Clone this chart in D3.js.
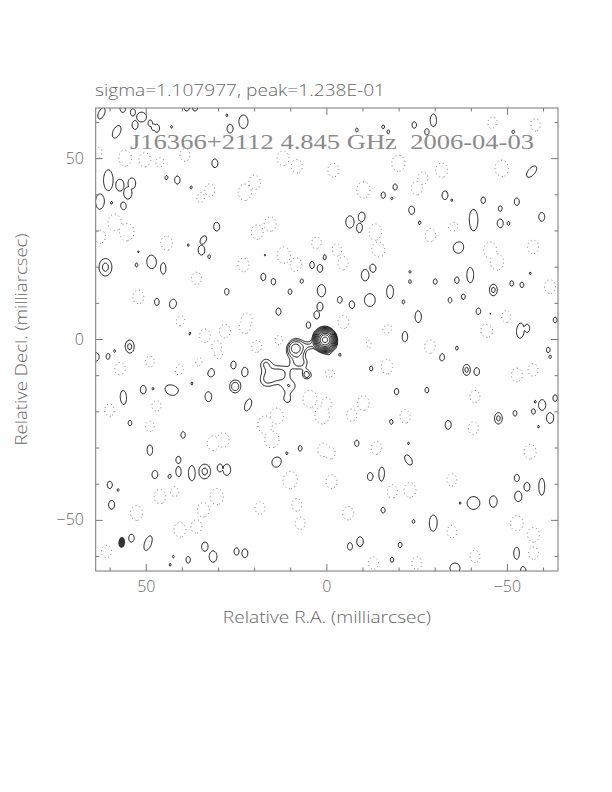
<!DOCTYPE html>
<html>
<head>
<meta charset="utf-8">
<script src="https://cdn.jsdelivr.net/npm/d3@7"></script>
<style>
  body { margin: 0; background: #fff; }
  svg { display: block; }
</style>
</head>
<body>
<svg id="chart" width="612" height="792"></svg>
<script>
// Texts
const statsText = "sigma=1.107977, peak=1.238E-01"
const titleText = "J16366+2112 4.845 GHz  2006-04-03"
const xLabelText = "Relative R.A. (milliarcsec)"
const yLabelText = "Relative Decl. (milliarcsec)"

// Axis ticks (mas)
const majorTicks = [50, 0, -50]
const minorTicks = [60, 40, 30, 20, 10, -10, -20, -30, -40, -60]

// contour levels in units of the lowest contour (x sqrt 2 steps)
const posLevels = [1, 1.41, 2, 2.83, 4, 5.66, 8, 11.3, 16, 22.6, 32]
const negLevels = [1]

// restoring beam (mas, deg)
const beam = { ra: 56.8, dec: -56.1, major: 3.0, minor: 1.85, pa: -5 }

// source components: [ra, dec, peak, sx, sy, pa]
const source = [
  [0.5, -0.1, 37.5, 1.3, 1.4, 0],
  [8.7, -2.4, 3.6, 1.8, 1.7, 0],
  [4.6, -1.6, 1.1, 1.2, 1.0, 0],
  [7.4, -6.5, 1.5, 2.0, 1.5, 0],
  [12.9, -9.3, 1.5, 2.5, 2.0, 0],
  [16.7, -11.2, 1.3, 2.0, 2.0, 0],
  [17.1, -6.5, 1.3, 1.5, 1.5, 0],
  [10.2, -13.0, 1.2, 2.0, 1.5, 0],
  [11.1, -16.7, 1.2, 1.5, 1.5, 0],
  [5.6, -9.8, 1.7, 0.9, 1.0, 0],
  [25.4, -13.0, 1.8, 1.4, 1.6, 0]
]

// positive noise peaks: [ra, dec, peak, sx, sy, pa]
const noisePos = [
  [62.4, 62.5, 1.35, 1.06, 2.13, -25], [56.5, 63.9, 1.28], [53.7, 62.8, 1.22], [51.3, 61.5, 1.35, 1.75, 1.75],
  [53.1, 59.3, 1.33], [48.9, 59.8, 1.17], [48.0, 58.7, 1.17], [47.1, 58.4, 1.28],
  [58.2, 57.4, 1.35, 1.3, 2.43, -25], [43.0, 58.8, 1.03], [38.8, 64.3, 1.28], [36.5, 64.3, 1.28],
  [27.7, 62.0, 1.03], [26.8, 58.3, 1.33], [23.1, 60.2, 1.35, 1.63, 2.39], [31.0, 48.7, 1.33],
  [17.6, 47.3, 1.03], [60.5, 44.1, 1.35, 1.72, 3.82], [57.3, 42.7, 1.35, 1.48, 2.18], [54.0, 43.2, 1.35, 1.38, 2.03],
  [55.1, 40.5, 1.35, 1.48, 2.18], [48.5, 45.0, 1.03], [44.5, 45.0, 1.22], [41.4, 44.1, 1.28],
  [37.4, 41.8, 1.28], [62.8, 38.1, 1.35, 1.58, 2.8], [59.6, 37.6, 1.12], [56.4, 36.7, 1.35, 1.19, 1.75],
  [30.5, 31.2, 1.33], [34.2, 27.5, 1.35, 1.0, 1.63, -30], [34.7, 24.7, 1.35, 1.19, 1.75], [32.6, 22.9, 1.06],
  [38.4, 26.1, 1.03], [52.2, 24.3, 1.03], [61.3, 20.0, 1.55, 1.9, 2.6],
  [48.5, 21.5, 1.35, 1.75, 2.45], [45.3, 19.7, 1.35, 0.98, 2.1], [52.7, 20.6, 1.06], [17.1, 23.3, 1.03],
  [17.6, 17.3, 1.22], [14.8, 16.0, 1.17], [27.7, 13.2, 1.17], [10.2, 13.2, 1.12],
  [47.1, 10.4, 1.22], [42.5, 9.5, 1.35, 1.48, 2.18], [0.5, 22.9, 1.28], [4.2, 20.6, 1.28],
  [1.9, 19.7, 1.28], [7.0, 16.4, 1.22], [1.5, 13.5, 1.35, 1.48, 2.18], [13.4, 7.7, 1.22],
  [12.5, 4.0, 1.17], [1.9, 9.1, 1.33], [5.1, 4.0, 1.17], [2.8, 6.8, 1.28],
  [37.9, 1.7, 1.12], [54.6, -2.0, 1.55, 1.34, 2.0], [63.8, -4.8, 1.28], [60.5, -4.8, 1.22],
  [58.7, -3.4, 1.12],
  [-29.5, 60.6, 1.35, 1.12, 2.24], [-24.2, 59.3, 1.17], [-27.7, 57.4, 1.17], [-15.6, 58.8, 1.06],
  [-17.0, 57.4, 1.06], [-8.3, 57.9, 1.06], [-51.6, 57.4, 1.06], [-54.4, 57.4, 1.06],
  [-48.0, 57.0, 1.03], [-56.7, 46.4, 1.35, 1.22, 2.43, -40], [-18.9, 42.2, 1.17], [-15.6, 39.9, 1.17],
  [-18.0, 39.0, 1.03], [-32.7, 39.9, 1.33], [-34.6, 38.5, 1.03], [-43.3, 38.5, 1.17],
  [-52.6, 38.1, 1.22], [-48.0, 36.2, 1.12], [-23.5, 35.8, 1.33], [-34.1, 34.9, 1.12],
  [-40.6, 33.0, 1.35, 1.58, 3.85], [-48.0, 32.1, 1.33], [-50.3, 32.1, 1.06], [-59.5, 33.9, 1.33],
  [-6.4, 32.5, 1.35, 1.48, 2.18], [-9.7, 33.8, 1.35, 1.29, 1.9], [-9.2, 30.8, 1.35, 1.29, 1.9], [-25.8, 32.1, 1.17],
  [-36.4, 25.6, 1.35, 1.93, 2.28], [-7.3, 18.3, 1.12], [-10.6, 17.8, 1.35, 1.38, 2.03], [-12.8, 20.0, 1.35, 1.29, 1.9],
  [-23.0, 18.7, 1.03], [-23.0, 16.0, 1.06], [-30.0, 16.0, 1.12], [-36.0, 16.4, 1.17],
  [-39.7, 17.8, 1.35, 1.22, 2.74], [-46.1, 13.7, 1.55, 1.17, 1.72], [-51.2, 15.5, 1.12], [-54.0, 15.1, 1.12],
  [-56.3, 18.3, 1.03], [-3.6, 10.9, 1.22], [-6.9, 9.5, 1.33], [-11.9, 10.9, 1.35, 1.93, 2.28],
  [-17.5, 13.2, 1.35, 1.22, 2.43], [-21.2, 10.4, 1.06], [-34.1, 10.9, 1.12], [-37.8, 11.8, 1.12],
  [-25.3, 6.3, 1.35, 1.12, 2.1], [-42.0, 7.7, 1.22], [-45.2, 6.8, 1.17], [-53.5, 2.6, 1.35, 1.46, 2.92],
  [-55.4, 3.1, 1.28], [-63.2, 5.4, 1.12], [-21.6, 0.8, 1.35, 1.0, 1.88], [-16.1, 5.9, 1.06],
  [-36.0, -2.4, 1.06], [-61.3, -2.9, 1.12], [-9.7, -2.4, 1.03], [-3.6, -4.3, 1.06],
  [25.9, -7.0, 1.28], [22.7, -8.9, 1.33], [2.8, -10.7, 1.06], [-1.8, -13.0, 1.17],
  [-12.4, -8.0, 1.17], [-0.9, -5.7, 1.12],
  [43.4, -7.0, 1.06], [32.4, -8.9, 1.35, 1.93, 2.1], [56.4, -16.2, 1.35, 1.22, 2.74], [50.8, -13.9, 1.33],
  [48.1, -13.9, 1.17], [43.0, -13.9, 1.35, 2.6, 2.1], [37.4, -12.1, 1.06], [32.8, -15.8, 1.35, 1.19, 1.75],
  [21.8, -18.1, 1.35, 1.12, 2.24, -20], [54.5, -23.1, 1.12], [39.8, -26.4, 1.17], [49.0, -30.5, 1.35, 1.0, 2.0],
  [13.9, -33.8, 1.35, 1.78, 2.1], [11.1, -31.4, 1.06], [7.4, -30.1, 1.12], [41.1, -33.3, 1.22],
  [47.6, -37.4, 1.33], [43.4, -38.3, 1.35, 1.19, 1.75], [41.1, -37.0, 1.35, 1.12, 2.52], [37.4, -37.0, 1.35, 1.22, 2.74],
  [33.8, -36.5, 1.55, 1.74, 2.2], [27.7, -36.0, 1.35, 1.38, 2.03], [29.6, -35.5, 1.28], [60.1, -40.2, 1.22],
  [57.8, -41.6, 1.03], [59.6, -45.7, 1.33], [54.1, -54.9, 1.28], [49.5, -56.3, 1.35, 1.22, 2.74, -20],
  [33.8, -57.2, 1.35, 1.19, 1.75], [31.5, -60.0, 1.35, 1.38, 2.03], [25.0, -58.6, 1.22], [22.7, -59.1, 1.33],
  [38.4, -60.9, 1.17], [42.5, -60.0, 1.03], [43.4, -62.3, 1.03],
  [-31.8, -4.8, 1.33], [-38.7, -8.4, 1.55, 1.1, 1.63], [-41.5, -8.9, 1.28], [-19.3, -14.4, 1.17],
  [-27.7, -14.0, 1.12], [-24.9, -17.2, 1.03], [-18.0, -22.7, 1.22], [-33.6, -23.6, 1.33],
  [-47.5, -21.8, 1.55, 1.14, 1.68], [-52.1, -20.4, 1.12], [-57.7, -17.2, 1.03], [-57.2, -19.9, 1.12],
  [-59.6, -18.1, 1.35, 1.29, 1.9], [-61.8, -21.7, 1.35, 1.29, 1.9], [-63.2, -16.2, 1.17], [-58.6, -24.1, 1.03],
  [-22.6, -28.7, 1.03], [-8.3, -28.7, 1.17], [-22.6, -33.3, 1.35, 1.12, 1.96, 30], [-12.0, -37.9, 1.28],
  [-15.2, -37.4, 1.35, 1.06, 3.04], [-52.6, -38.3, 1.22], [-55.4, -40.7, 1.33], [-53.0, -43.4, 1.35, 1.29, 1.9],
  [-59.5, -40.7, 1.35, 1.06, 3.04], [-40.6, -45.2, 1.35, 2.28, 2.28], [-46.1, -44.8, 1.35, 1.38, 2.03], [-36.9, -45.2, 1.03],
  [-15.6, -47.1, 1.17], [-29.5, -50.8, 1.35, 1.46, 2.92], [-24.0, -50.3, 1.06], [-9.2, -55.9, 1.35, 1.19, 1.75],
  [-6.4, -57.2, 1.22], [-20.3, -56.8, 1.12], [-18.0, -60.9, 1.12], [-52.6, -59.1, 1.35, 1.12, 2.24],
  [-35.5, -63.2, 1.35, 1.82, 1.82], [-54.4, -63.7, 1.28], [-61.8, -4.8, 1.06]
]

// negative noise troughs (drawn dotted): [ra, dec, depth, sx, sy, pa]
const noiseNeg = [
  [55.9, 50.1, 1.8], [50.4, 49.6, 1.6], [63.4, 51.5, 1.4], [39.3, 51.0, 1.4],
  [12.1, 50.1, 1.6], [8.3, 47.9, 1.5], [46.2, 48.8, 1.3], [22.7, 40.7, 1.8],
  [19.9, 43.5, 1.6], [32.4, 41.3, 1.4], [35.1, 39.4, 1.3], [58.7, 32.5, 2.0],
  [55.4, 29.7, 2.0], [62.8, 28.4, 1.5], [19.3, 29.7, 1.6], [15.7, 31.9, 1.6],
  [44.4, 26.6, 1.6], [11.9, 23.3, 1.8], [8.5, 20.6, 1.6], [23.1, 20.6, 1.5],
  [2.8, 26.6, 1.4], [36.1, 16.9, 1.4], [52.2, 11.8, 1.5], [40.7, 5.4, 1.4],
  [22.2, 5.4, 1.5], [33.8, 1.0, 1.5], [28.2, 2.3, 1.5], [22.7, 3.5, 1.5],
  [30.5, -2.0, 1.4], [19.4, -2.0, 1.4], [13.0, -0.1, 1.4],
  [-1.8, 46.8, 1.5], [-19.8, 48.7, 1.8], [-31.8, 46.8, 1.6], [-48.4, 47.3, 1.8],
  [-10.1, 41.3, 1.8], [-24.9, 41.8, 1.5], [-26.6, 44.6, 1.4], [-13.3, 29.7, 1.8],
  [-14.2, 24.7, 1.8], [-28.6, 28.9, 1.5], [-35.0, 31.2, 1.4], [-45.2, 24.7, 1.8],
  [-47.1, 21.4, 1.8], [-57.1, 25.6, 1.5], [-2.7, 24.7, 1.4], [-4.6, 21.0, 1.5],
  [-61.8, 14.6, 1.5], [-4.6, 4.9, 1.5], [-16.6, 3.5, 1.5], [-28.6, -2.0, 1.5],
  [-44.3, 2.6, 1.6], [-49.8, 6.3, 1.4], [-11.0, -1.5, 1.4], [-57.7, 59.3, 1.4],
  [-46.0, 59.8, 1.4],
  [57.3, -8.0, 1.5], [49.0, -6.1, 1.3], [41.1, -8.4, 1.4], [35.1, -6.6, 1.4],
  [30.1, -4.3, 1.3], [47.1, -18.1, 1.4], [60.1, -19.5, 1.4], [49.0, -24.1, 1.3],
  [17.1, -23.6, 2.0], [15.2, -27.8, 2.0], [13.8, -21.1, 1.8], [31.5, -28.7, 1.6],
  [28.7, -27.8, 1.6], [4.7, -16.4, 2.0], [1.3, -20.9, 2.0], [1.0, -30.5, 1.5],
  [10.2, -38.8, 2.0], [30.5, -43.4, 1.8], [34.2, -47.1, 1.6], [46.2, -43.4, 1.6],
  [52.7, -48.0, 1.6], [42.1, -41.6, 1.5], [40.7, -52.6, 1.6], [36.1, -51.7, 1.5],
  [18.5, -46.6, 1.4], [8.3, -45.7, 1.4], [7.4, -50.8, 1.4], [61.0, -58.6, 1.4],
  [-16.6, -7.5, 1.6], [-0.9, -9.3, 1.4], [-52.6, -9.8, 1.5], [-57.1, -8.4, 1.4],
  [-10.1, -17.6, 1.6], [0.0, -17.6, 1.4], [-6.9, -20.9, 1.4], [-21.6, -21.3, 1.5],
  [-41.0, -15.8, 1.4], [-40.6, -24.5, 1.4], [-13.8, -30.1, 1.5], [-0.9, -31.4, 1.4],
  [-56.3, -31.0, 1.6], [-1.3, -39.3, 1.5], [-23.0, -41.6, 1.6], [-18.0, -42.0, 1.5],
  [-34.6, -38.8, 1.4], [-5.9, -48.0, 1.5], [-52.6, -50.8, 1.7], [-57.2, -54.0, 1.6],
  [-34.6, -53.1, 1.4], [-12.9, -61.8, 1.4], [-24.9, -61.8, 1.4], [-41.0, -60.0, 1.4],
  [-57.2, -59.1, 1.4]
]

// Layout
const frame = { left: 95.7, right: 558, top: 108, bottom: 571 }
const half = 64

const svg = d3.select('#chart')
const x = d3.scaleLinear().domain([half, -half]).range([frame.left, frame.right])
const y = d3.scaleLinear().domain([half, -half]).range([frame.top, frame.bottom])

// Build the map on a grid (0.25 mas cells)
const step = 0.25
const n = Math.round(2 * half / step) + 1
const srcGrid = new Float64Array(n * n)
const posGrid = new Float64Array(n * n)
const negGrid = new Float64Array(n * n)

// source components add up; noise peaks do not pile on each other (max)
function addComp(target, c, dsx, dsy, mode) {
  const [ra, dec, p, sx = dsx, sy = dsy, pa = 0] = c
  const t = pa * Math.PI / 180, ct = Math.cos(t), st = Math.sin(t)
  const r = 4 * Math.max(sx, sy)
  const i0 = Math.max(0, Math.floor((half - ra - r) / step))
  const i1 = Math.min(n - 1, Math.ceil((half - ra + r) / step))
  const j0 = Math.max(0, Math.floor((half - dec - r) / step))
  const j1 = Math.min(n - 1, Math.ceil((half - dec + r) / step))
  for (let j = j0; j <= j1; j++) {
    const dy = (half - j * step) - dec
    for (let i = i0; i <= i1; i++) {
      const dx = (half - i * step) - ra
      const u = dx * ct - dy * st, v = dx * st + dy * ct
      const val = p * Math.exp(-0.5 * (u * u / (sx * sx) + v * v / (sy * sy)))
      const k = j * n + i
      if (mode === 'sum') target[k] += val
      else if (val > target[k]) target[k] = val
    }
  }
}

source.forEach(c => addComp(srcGrid, c, 1.5, 1.5, 'sum'))
noisePos.forEach(c => addComp(posGrid, c, 1.1, 1.6, 'max'))
noiseNeg.forEach(c => addComp(negGrid, c, 1.7, 2.1, 'max'))

const field = srcGrid.map((v, k) => v + posGrid[k] - negGrid[k])

// grid coords -> pixels
const toPx = d3.geoTransform({
  point: function (gx, gy) {
    this.stream.point(x(half - (gx - 0.5) * step), y(half - (gy - 0.5) * step))
  }
})
const path = d3.geoPath(toPx)

svg.append('clipPath').attr('id', 'clip')
  .append('rect')
  .attr('x', frame.left).attr('y', frame.top)
  .attr('width', frame.right - frame.left).attr('height', frame.bottom - frame.top)

const plot = svg.append('g').attr('clip-path', 'url(#clip)')

const posContours = d3.contours().size([n, n]).thresholds(posLevels)(field)
const negContours = d3.contours().size([n, n]).thresholds(negLevels)(field.map(v => -v))

plot.selectAll('path.neg')
  .data(negContours)
  .enter().append('path')
  .attr('class', 'neg')
  .attr('d', path)
  .attr('fill', 'none')
  .attr('stroke', '#777')
  .attr('stroke-width', 1)
  .attr('stroke-dasharray', '1 3')

plot.selectAll('path.pos')
  .data(posContours)
  .enter().append('path')
  .attr('class', 'pos')
  .attr('d', path)
  .attr('fill', 'none')
  .attr('stroke', '#000')
  .attr('stroke-width', 0.9)

// beam
const pxPerMas = x(0) - x(1)
plot.append('ellipse')
  .attr('cx', x(beam.ra)).attr('cy', y(beam.dec))
  .attr('rx', beam.minor / 2 * pxPerMas)
  .attr('ry', beam.major / 2 * (y(0) - y(1)))
  .attr('transform', `rotate(${-beam.pa},${x(beam.ra)},${y(beam.dec)})`)
  .attr('fill', '#333')

// frame + inward ticks on all four sides
const axisColor = '#777'
svg.append('rect')
  .attr('x', frame.left).attr('y', frame.top)
  .attr('width', frame.right - frame.left).attr('height', frame.bottom - frame.top)
  .attr('fill', 'none').attr('stroke', axisColor).attr('stroke-width', 1)

const ticks = majorTicks.map(v => ({ v, len: 7 })).concat(minorTicks.map(v => ({ v, len: 3.5 })))
const tg = svg.append('g').attr('stroke', axisColor).attr('stroke-width', 1)
ticks.forEach(t => {
  tg.append('line').attr('x1', x(t.v)).attr('x2', x(t.v)).attr('y1', frame.bottom).attr('y2', frame.bottom - t.len)
  tg.append('line').attr('x1', x(t.v)).attr('x2', x(t.v)).attr('y1', frame.top).attr('y2', frame.top + t.len)
  tg.append('line').attr('y1', y(t.v)).attr('y2', y(t.v)).attr('x1', frame.left).attr('x2', frame.left + t.len)
  tg.append('line').attr('y1', y(t.v)).attr('y2', y(t.v)).attr('x1', frame.right).attr('x2', frame.right - t.len)
})

// Labels
const fmt = v => v < 0 ? '\u2212' + Math.abs(v) : String(v)
const textColor = '#666'
const sans = "'Open Sans', 'DejaVu Sans', sans-serif"

svg.selectAll('text.xt')
  .data(majorTicks)
  .enter().append('text')
  .attr('class', 'xt')
  .attr('x', d => x(d)).attr('y', 592)
  .attr('text-anchor', 'middle')
  .attr('font-family', sans).attr('font-weight', 300).attr('font-size', 16).attr('fill', textColor)
  .text(fmt)

svg.selectAll('text.yt')
  .data(majorTicks)
  .enter().append('text')
  .attr('class', 'yt')
  .attr('x', 84).attr('y', d => y(d) + 5)
  .attr('text-anchor', 'end')
  .attr('font-family', sans).attr('font-weight', 300).attr('font-size', 16).attr('fill', textColor)
  .text(fmt)

svg.append('text')
  .attr('x', x(0)).attr('y', 623)
  .attr('text-anchor', 'middle')
  .attr('font-family', sans).attr('font-weight', 300).attr('font-size', 16).attr('fill', textColor)
  .attr('textLength', 208).attr('lengthAdjust', 'spacingAndGlyphs')
  .text(xLabelText)

svg.append('text')
  .attr('transform', `translate(27,${y(0)}) rotate(-90)`)
  .attr('text-anchor', 'middle')
  .attr('font-family', sans).attr('font-weight', 300).attr('font-size', 16).attr('fill', textColor)
  .attr('textLength', 212).attr('lengthAdjust', 'spacingAndGlyphs')
  .text(yLabelText)

svg.append('text')
  .attr('x', 95).attr('y', 96)
  .attr('font-family', sans).attr('font-weight', 300).attr('font-size', 16).attr('fill', textColor)
  .attr('textLength', 290).attr('lengthAdjust', 'spacingAndGlyphs')
  .text(statsText)

svg.append('text')
  .attr('x', 130).attr('y', 149)
  .attr('font-family', "'Liberation Serif', serif").attr('font-size', 21).attr('fill', '#8a8a8a')
  .attr('textLength', 404).attr('lengthAdjust', 'spacingAndGlyphs')
  .attr('xml:space', 'preserve')
  .text(titleText)
</script>
</body>
</html>
